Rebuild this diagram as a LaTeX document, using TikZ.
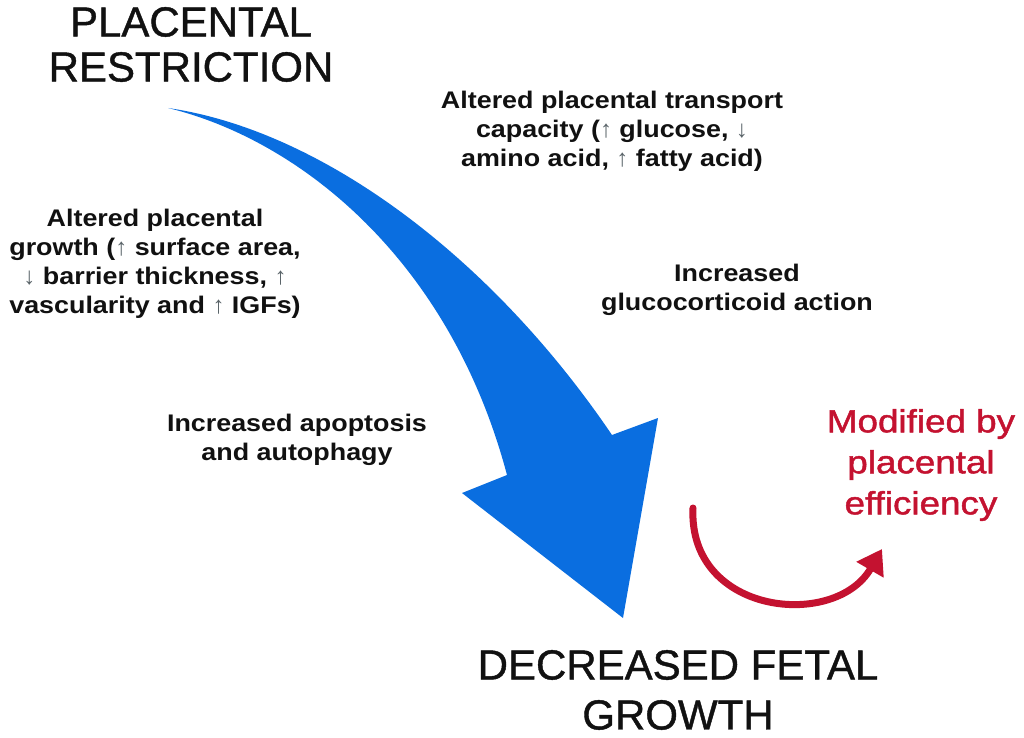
\documentclass[tikz,border=0pt]{standalone}
\usepackage{fontspec}
\setmainfont{Liberation Sans}
\newfontfamily\bigtextfont[FakeBold=1]{Liberation Sans}
\newfontfamily\smallboldfont[FakeStretch=1.12]{Liberation Sans Bold}
\newfontfamily\redtextfont[FakeStretch=1.15,FakeBold=1.5]{Liberation Sans}
\newfontfamily\arrglyphfont{Liberation Sans}
\usetikzlibrary{arrows.meta}
\definecolor{bluefill}{RGB}{10,110,224}
\definecolor{redc}{RGB}{196,18,48}
\definecolor{txt}{RGB}{17,17,17}
\definecolor{arrowgray}{RGB}{90,100,105}
\newcommand\uarr{{\arrglyphfont\mdseries\textcolor{arrowgray}{↑}}}
\newcommand\darr{{\arrglyphfont\mdseries\textcolor{arrowgray}{↓}}}
\begin{document}
\begin{tikzpicture}[x=0.5pt,y=-0.5pt,
  bigtitle/.style={font=\bigtextfont\fontsize{21}{22.5}\selectfont, text=txt, align=center, inner sep=0pt},
  bigbottom/.style={font=\bigtextfont\fontsize{21}{25}\selectfont, text=txt, align=center, inner sep=0pt},
  lbl/.style={font=\smallboldfont\fontsize{12}{14.5}\selectfont, text=txt, align=center, inner sep=0pt},
  redlbl/.style={font=\redtextfont\fontsize{16}{20.5}\selectfont, text=redc, align=center, inner sep=0pt},
  bigarrow/.style={fill=bluefill},
  redarrow/.style={draw=redc, line width=3.5pt, line cap=round, -{Triangle[length=12pt,width=15pt]}}
  ]
\fill[white] (0,0) rectangle (1024,738);
\useasboundingbox (0,0) rectangle (1024,738);

% big curved arrow
\fill[bigarrow] (168,108) .. controls (320,130) and (490,255) .. (612,435)
  -- (658,418) -- (623,618) -- (462,493) -- (507,475)
  .. controls (450,260) and (300,140) .. cycle;

% texts
\node[bigtitle] (src) at (191,44.5) {PLACENTAL\\RESTRICTION};
\node[bigbottom] (dst) at (678,690) {DECREASED FETAL\\GROWTH};
\node[lbl] (growth) at (155,264) {Altered placental\\growth (\uarr{} surface area,\\\darr{} barrier thickness, \uarr\\vascularity and \uarr{} IGFs)};
\node[lbl] (transport) at (612,131) {Altered placental transport\\capacity (\uarr{} glucose, \darr\\amino acid, \uarr{} fatty acid)};
\node[lbl] (gluco) at (737,290) {Increased\\glucocorticoid action};
\node[lbl] (apop) at (297,440) {Increased apoptosis\\and autophagy};
\node[redlbl] (eff) at (921,465) {Modified by\\placental\\efficiency};

% red curved arrow
\coordinate (rs) at (693,508);
\coordinate (re) at (882,549);
\draw[redarrow] (rs) .. controls (688,615) and (835,630) .. (re);
\end{tikzpicture}
\end{document}
